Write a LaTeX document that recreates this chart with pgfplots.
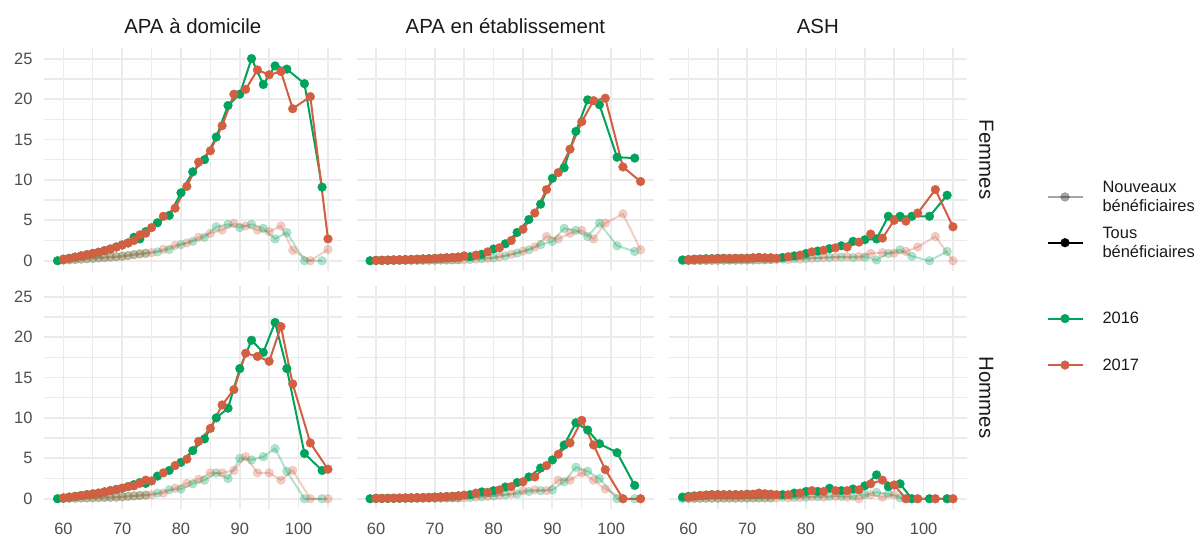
\documentclass[border=0pt]{standalone}
\usepackage{pgfplots}
\pgfplotsset{compat=1.18}
\usepackage{pgfplotstable}
\usepackage{fontspec}
\setmainfont{Liberation Sans}
\definecolor{g16}{HTML}{00A35C}
\definecolor{o17}{HTML}{D35F42}
\definecolor{gridc}{HTML}{EBEBEB}
\definecolor{tickc}{HTML}{4D4D4D}
\definecolor{stripc}{HTML}{1A1A1A}

% ---------- APA a domicile, Femmes ----------
\pgfplotstableread[row sep=\\]{x y\\59 0\\60 0.2\\61 0.3\\62 0.45\\63 0.6\\64 0.75\\65 0.9\\66 1.05\\67 1.25\\68 1.45\\69 1.7\\70 1.95\\71 2.2\\72 2.9\\73 2.7\\74 3.6\\76 4.7\\78 5.6\\80 8.4\\82 11.0\\84 12.5\\86 15.3\\88 19.2\\90 20.6\\92 25.0\\94 21.8\\96 24.1\\98 23.7\\101 21.9\\104 9.1\\}\GTa
\pgfplotstableread[row sep=\\]{x y\\60 0.15\\61 0.3\\62 0.45\\63 0.6\\64 0.75\\65 0.9\\66 1.05\\67 1.25\\68 1.45\\69 1.7\\70 1.95\\71 2.2\\72 2.5\\73 3.2\\74 3.4\\75 4.1\\77 5.5\\79 6.5\\81 9.2\\83 12.2\\85 13.6\\87 16.7\\89 20.6\\91 21.2\\93 23.6\\95 23.0\\97 23.4\\99 18.8\\102 20.3\\105 2.7\\}\OTa
\pgfplotstableread[row sep=\\]{x y\\59 0\\60 0.1\\61 0.12\\62 0.15\\63 0.2\\64 0.25\\65 0.3\\66 0.35\\67 0.4\\68 0.45\\69 0.5\\70 0.55\\71 0.65\\72 0.75\\73 0.85\\74 0.95\\76 1.1\\78 1.4\\80 2.0\\82 2.4\\84 2.9\\86 4.2\\88 4.5\\90 4.1\\92 4.5\\94 4.0\\96 2.7\\98 3.5\\101 0\\104 0\\}\GNa
\pgfplotstableread[row sep=\\]{x y\\60 0.08\\61 0.1\\62 0.15\\63 0.2\\64 0.25\\65 0.3\\66 0.35\\67 0.4\\68 0.45\\69 0.5\\70 0.55\\71 0.65\\72 0.75\\73 0.85\\74 0.9\\75 1.0\\77 1.4\\79 1.9\\81 2.2\\83 2.9\\85 3.4\\87 3.8\\89 4.6\\91 4.3\\93 3.8\\95 3.6\\97 4.3\\99 1.3\\102 0\\105 1.4\\}\ONa
% ---------- APA en etablissement, Femmes ----------
\pgfplotstableread[row sep=\\]{x y\\59 0\\60 0.05\\61 0.06\\62 0.08\\63 0.1\\64 0.12\\65 0.14\\66 0.16\\67 0.19\\68 0.22\\69 0.25\\70 0.28\\71 0.32\\72 0.36\\73 0.4\\74 0.45\\76 0.5\\78 0.8\\80 1.45\\82 2.1\\84 3.5\\86 5.1\\88 7.0\\90 10.2\\92 11.5\\94 16.0\\96 19.9\\98 19.3\\101 12.8\\104 12.7\\}\GTb
\pgfplotstableread[row sep=\\]{x y\\60 0.05\\61 0.06\\62 0.08\\63 0.1\\64 0.12\\65 0.14\\66 0.16\\67 0.19\\68 0.22\\69 0.25\\70 0.28\\71 0.32\\72 0.36\\73 0.4\\74 0.45\\75 0.6\\77 0.7\\79 1.1\\81 1.6\\83 2.5\\85 3.9\\87 5.9\\89 8.8\\91 10.9\\93 13.8\\95 17.2\\97 19.8\\99 20.1\\102 11.6\\105 9.8\\}\OTb
\pgfplotstableread[row sep=\\]{x y\\59 0\\60 0.02\\61 0.02\\62 0.03\\63 0.03\\64 0.04\\65 0.04\\66 0.05\\67 0.05\\68 0.06\\69 0.07\\70 0.08\\71 0.09\\72 0.1\\73 0.11\\74 0.12\\76 0.15\\78 0.25\\80 0.35\\82 0.6\\84 0.95\\86 1.35\\88 2.0\\90 2.4\\92 4.0\\94 3.75\\96 3.0\\98 4.65\\101 1.85\\104 1.15\\}\GNb
\pgfplotstableread[row sep=\\]{x y\\60 0.02\\61 0.02\\62 0.03\\63 0.03\\64 0.04\\65 0.04\\66 0.05\\67 0.05\\68 0.06\\69 0.07\\70 0.08\\71 0.09\\72 0.1\\73 0.11\\74 0.12\\75 0.12\\77 0.2\\79 0.3\\81 0.5\\83 0.8\\85 1.2\\87 1.7\\89 3.0\\91 2.7\\93 3.4\\95 3.75\\97 2.7\\99 4.65\\102 5.8\\105 1.36\\}\ONb
% ---------- ASH, Femmes ----------
\pgfplotstableread[row sep=\\]{x y\\59 0.1\\60 0.15\\61 0.2\\62 0.2\\63 0.25\\64 0.25\\65 0.3\\66 0.3\\67 0.25\\68 0.3\\69 0.3\\70 0.3\\71 0.35\\72 0.4\\73 0.35\\74 0.35\\76 0.4\\78 0.6\\80 0.9\\82 1.2\\84 1.5\\86 1.85\\88 2.4\\90 2.6\\92 2.7\\94 5.5\\96 5.5\\98 5.5\\101 5.5\\104 8.1\\}\GTc
\pgfplotstableread[row sep=\\]{x y\\60 0.1\\61 0.15\\62 0.2\\63 0.2\\64 0.25\\65 0.25\\66 0.3\\67 0.3\\68 0.3\\69 0.3\\70 0.3\\71 0.35\\72 0.4\\73 0.35\\74 0.35\\75 0.3\\77 0.5\\79 0.7\\81 1.1\\83 1.3\\85 1.6\\87 1.7\\89 2.3\\91 3.3\\93 2.8\\95 5.0\\97 4.9\\99 5.9\\102 8.8\\105 4.2\\}\OTc
\pgfplotstableread[row sep=\\]{x y\\59 0\\60 0.02\\61 0.03\\62 0.04\\63 0.05\\64 0.05\\65 0.06\\66 0.07\\67 0.08\\68 0.08\\69 0.09\\70 0.1\\71 0.1\\72 0.12\\73 0.12\\74 0.14\\76 0.2\\78 0.25\\80 0.3\\82 0.35\\84 0.4\\86 0.45\\88 0.4\\90 0.45\\92 0.1\\94 0.9\\96 1.35\\98 0.55\\101 0\\104 1.15\\}\GNc
\pgfplotstableread[row sep=\\]{x y\\60 0.02\\61 0.03\\62 0.04\\63 0.05\\64 0.05\\65 0.06\\66 0.07\\67 0.08\\68 0.08\\69 0.09\\70 0.1\\71 0.1\\72 0.12\\73 0.12\\74 0.14\\75 0.15\\77 0.15\\79 0.2\\81 0.3\\83 0.4\\85 0.45\\87 0.5\\89 0.5\\91 0.9\\93 1.0\\95 0.95\\97 1.15\\99 1.7\\102 3.0\\105 0\\}\ONc
% ---------- APA a domicile, Hommes ----------
\pgfplotstableread[row sep=\\]{x y\\59 0\\60 0.1\\61 0.2\\62 0.3\\63 0.4\\64 0.5\\65 0.6\\66 0.7\\67 0.85\\68 1.0\\69 1.15\\70 1.3\\71 1.5\\72 1.75\\73 2.0\\74 1.9\\76 2.8\\78 3.5\\80 4.5\\82 5.95\\84 7.4\\86 10.0\\88 11.2\\90 16.1\\92 19.6\\94 18.1\\96 21.8\\98 16.1\\101 5.6\\104 3.5\\}\GTd
\pgfplotstableread[row sep=\\]{x y\\60 0.1\\61 0.2\\62 0.3\\63 0.4\\64 0.5\\65 0.6\\66 0.7\\67 0.85\\68 1.0\\69 1.15\\70 1.3\\71 1.5\\72 1.6\\73 1.9\\74 2.3\\75 2.2\\77 3.2\\79 4.1\\81 4.9\\83 7.1\\85 8.7\\87 11.6\\89 13.5\\91 18.0\\93 17.6\\95 17.0\\97 21.3\\99 14.2\\102 6.9\\105 3.65\\}\OTd
\pgfplotstableread[row sep=\\]{x y\\59 0\\60 0.03\\61 0.05\\62 0.07\\63 0.09\\64 0.1\\65 0.12\\66 0.14\\67 0.16\\68 0.18\\69 0.2\\70 0.25\\71 0.3\\72 0.35\\73 0.4\\74 0.45\\76 0.7\\78 1.1\\80 1.2\\82 1.85\\84 2.3\\86 3.2\\88 2.5\\90 5.0\\92 4.8\\94 5.2\\96 6.2\\98 3.4\\101 0\\104 0\\}\GNd
\pgfplotstableread[row sep=\\]{x y\\60 0.03\\61 0.05\\62 0.07\\63 0.09\\64 0.1\\65 0.12\\66 0.14\\67 0.16\\68 0.18\\69 0.2\\70 0.25\\71 0.3\\72 0.35\\73 0.4\\74 0.45\\75 0.5\\77 0.7\\79 1.3\\81 1.9\\83 2.4\\85 3.2\\87 3.2\\89 3.5\\91 5.2\\93 3.2\\95 3.2\\97 2.3\\99 3.5\\102 0\\105 0\\}\ONd
% ---------- APA en etablissement, Hommes ----------
\pgfplotstableread[row sep=\\]{x y\\59 0\\60 0.05\\61 0.05\\62 0.06\\63 0.07\\64 0.08\\65 0.1\\66 0.11\\67 0.13\\68 0.15\\69 0.17\\70 0.2\\71 0.23\\72 0.27\\73 0.3\\74 0.35\\76 0.5\\78 0.85\\80 1.0\\82 1.45\\84 2.0\\86 2.7\\88 3.8\\90 4.8\\92 6.65\\94 9.4\\96 8.5\\98 6.8\\101 5.7\\104 1.65\\}\GTe
\pgfplotstableread[row sep=\\]{x y\\60 0.05\\61 0.05\\62 0.06\\63 0.07\\64 0.08\\65 0.1\\66 0.11\\67 0.13\\68 0.15\\69 0.17\\70 0.2\\71 0.23\\72 0.27\\73 0.3\\74 0.35\\75 0.45\\77 0.7\\79 0.8\\81 1.1\\83 1.5\\85 2.1\\87 2.7\\89 4.1\\91 5.5\\93 6.9\\95 9.7\\97 6.65\\99 3.6\\102 0\\105 0\\}\OTe
\pgfplotstableread[row sep=\\]{x y\\59 0\\60 0.02\\61 0.02\\62 0.03\\63 0.03\\64 0.04\\65 0.04\\66 0.05\\67 0.05\\68 0.06\\69 0.07\\70 0.07\\71 0.08\\72 0.09\\73 0.1\\74 0.1\\76 0.15\\78 0.25\\80 0.35\\82 0.5\\84 0.6\\86 0.9\\88 1.0\\90 1.1\\92 2.1\\94 3.9\\96 3.4\\98 2.5\\101 0\\104 0\\}\GNe
\pgfplotstableread[row sep=\\]{x y\\60 0.02\\61 0.02\\62 0.03\\63 0.03\\64 0.04\\65 0.04\\66 0.05\\67 0.05\\68 0.06\\69 0.07\\70 0.07\\71 0.08\\72 0.09\\73 0.1\\74 0.1\\75 0.12\\77 0.2\\79 0.3\\81 0.45\\83 0.6\\85 1.0\\87 1.1\\89 1.0\\91 2.3\\93 2.3\\95 3.2\\97 2.3\\99 1.2\\102 0\\105 0\\}\ONe
% ---------- ASH, Hommes ----------
\pgfplotstableread[row sep=\\]{x y\\59 0.2\\60 0.3\\61 0.35\\62 0.4\\63 0.45\\64 0.5\\65 0.5\\66 0.5\\67 0.5\\68 0.5\\69 0.5\\70 0.55\\71 0.55\\72 0.6\\73 0.6\\74 0.55\\76 0.5\\78 0.7\\80 0.9\\82 0.9\\84 1.3\\86 1.0\\88 1.2\\90 1.6\\92 2.95\\94 1.5\\96 1.85\\98 0\\101 0\\104 0\\}\GTf
\pgfplotstableread[row sep=\\]{x y\\60 0.2\\61 0.3\\62 0.4\\63 0.45\\64 0.5\\65 0.5\\66 0.5\\67 0.5\\68 0.5\\69 0.5\\70 0.55\\71 0.55\\72 0.7\\73 0.6\\74 0.55\\75 0.5\\77 0.5\\79 0.7\\81 1.0\\83 0.9\\85 1.0\\87 1.0\\89 1.1\\91 1.85\\93 2.3\\95 1.7\\97 0\\99 0\\102 0\\105 0\\}\OTf
\pgfplotstableread[row sep=\\]{x y\\59 0\\60 0.05\\61 0.05\\62 0.06\\63 0.06\\64 0.07\\65 0.07\\66 0.08\\67 0.08\\68 0.08\\69 0.09\\70 0.09\\71 0.1\\72 0.1\\73 0.1\\74 0.1\\76 0.2\\78 0.15\\80 0.2\\82 0.25\\84 0.3\\86 0.3\\88 0.3\\90 0.5\\92 0.8\\94 0.6\\96 0.1\\98 0\\101 0\\104 0\\}\GNf
\pgfplotstableread[row sep=\\]{x y\\60 0.05\\61 0.05\\62 0.06\\63 0.06\\64 0.07\\65 0.07\\66 0.08\\67 0.08\\68 0.08\\69 0.09\\70 0.09\\71 0.1\\72 0.1\\73 0.1\\74 0.1\\75 0.1\\77 0.1\\79 0.15\\81 0.25\\83 0.2\\85 0.3\\87 0.2\\89 0.0\\91 0.5\\93 0.2\\95 0.5\\97 0\\99 0\\102 0\\105 0\\}\ONf

\pgfplotsset{
  panel/.style={
    scale only axis, width=297.5bp, height=223bp, anchor=south west,
    clip mode=individual,
    xmin=56.7, xmax=107.3, ymin=-1.28, ymax=26.3,
    xtick={60,70,80,90,100}, minor xtick={65,75,85,95,105},
    ytick={0,5,10,15,20,25}, minor ytick={2.5,7.5,12.5,17.5,22.5},
    grid=both,
    major grid style={draw=gridc, line width=1.8bp},
    minor grid style={draw=gridc, line width=1.4bp},
    axis line style={draw=none},
    major tick length=0pt, minor tick length=0pt,
    tick style={draw=none},
    ticklabel style={font=\fontsize{16.5}{16.5}\selectfont, text=tickc},
    /pgf/number format/assume math mode=true,
    xticklabel style={yshift=-10bp},
    yticklabel style={xshift=-8bp},
    title style={font=\fontsize{20.5}{20.5}\selectfont, text=stripc, at={(0.5,1)}, anchor=base, yshift=8.5bp},
    legend image code/.code={\draw[mark repeat=2,mark phase=2,##1] plot coordinates {(0bp,0bp) (17.5bp,0bp) (35bp,0bp)};},
  },
  lw/.style={line width=2bp},
  mk/.style={only marks, mark=*, mark size=4.4bp},
}
\tikzset{strip/.style={xshift=19.8bp, rotate=-90, font=\fontsize{20.5}{20.5}\selectfont, text=stripc}}

\newcommand{\drawpanel}[4]{%
  \addplot[forget plot, lw, g16, opacity=0.3] table {#3};
  \addplot[forget plot, lw, o17, opacity=0.3] table {#4};
  \addplot[forget plot, lw, g16] table {#1};
  \addplot[forget plot, lw, o17] table {#2};
  \addplot[forget plot, mk, g16, opacity=0.3, mark options={line width=0.3bp, draw=g16, fill=g16}] table {#3};
  \addplot[forget plot, mk, o17, opacity=0.3, mark options={line width=0.3bp, draw=o17, fill=o17}] table {#4};
  \addplot[forget plot, mk, g16, mark options={line width=0.3bp, draw=g16, fill=g16}] table {#1};
  \addplot[forget plot, mk, o17, mark options={line width=0.3bp, draw=o17, fill=o17}] table {#2};
}

\begin{document}
\begin{tikzpicture}
\path[use as bounding box] (0,0) rectangle (1198bp,538bp);

% top row
\begin{axis}[panel, at={(44bp,266.9bp)}, title={APA à domicile}, xticklabels={}]
\drawpanel{\GTa}{\OTa}{\GNa}{\ONa}
\end{axis}
\begin{axis}[panel, at={(356.6bp,266.9bp)}, title={APA en établissement}, xticklabels={}, yticklabels={}]
\drawpanel{\GTb}{\OTb}{\GNb}{\ONb}
\end{axis}
\begin{axis}[panel, at={(669bp,266.9bp)}, title={ASH}, xticklabels={}, yticklabels={},
  legend style={at={(rel axis cs:1,1)}, anchor=north west, xshift=80bp, yshift=-133bp,
    draw=none, fill=none, inner sep=0pt, outer sep=0pt,
    nodes={inner sep=0pt, outer sep=0pt},
    row sep=14bp, cells={anchor=west, align=left},
    font=\fontsize{16.5}{19}\selectfont, text=stripc,
    /tikz/every odd column/.append style={column sep=19bp}}]
\drawpanel{\GTc}{\OTc}{\GNc}{\ONc}
\addlegendimage{lw, black, opacity=0.35, mark=*, mark size=4.4bp, mark options={line width=0.3bp, draw=black, fill=black}}
\addlegendentry{Nouveaux\\bénéficiaires}
\addlegendimage{lw, black, mark=*, mark size=4.4bp, mark options={line width=0.3bp, draw=black, fill=black}}
\addlegendentry{Tous\\bénéficiaires}
\node[strip] at (rel axis cs:1,0.5) {Femmes};
\end{axis}

% bottom row
\begin{axis}[panel, at={(44bp,28.9bp)}]
\drawpanel{\GTd}{\OTd}{\GNd}{\ONd}
\end{axis}
\begin{axis}[panel, at={(356.6bp,28.9bp)}, yticklabels={}]
\drawpanel{\GTe}{\OTe}{\GNe}{\ONe}
\end{axis}
\begin{axis}[panel, at={(669bp,28.9bp)}, yticklabels={},
  legend style={at={(rel axis cs:1,1)}, anchor=north west, xshift=80bp, yshift=-26bp,
    draw=none, fill=none, inner sep=0pt, outer sep=0pt,
    nodes={inner sep=0pt, outer sep=0pt},
    row sep=33.5bp, cells={anchor=west, align=left},
    font=\fontsize{16.5}{19}\selectfont, text=stripc,
    /tikz/every odd column/.append style={column sep=19bp}}]
\drawpanel{\GTf}{\OTf}{\GNf}{\ONf}
\addlegendimage{lw, g16, mark=*, mark size=4.4bp, mark options={line width=0.3bp, draw=g16, fill=g16}}
\addlegendentry{2016}
\addlegendimage{lw, o17, mark=*, mark size=4.4bp, mark options={line width=0.3bp, draw=o17, fill=o17}}
\addlegendentry{2017}
\node[strip] at (rel axis cs:1,0.5) {Hommes};
\end{axis}
\end{tikzpicture}
\end{document}
